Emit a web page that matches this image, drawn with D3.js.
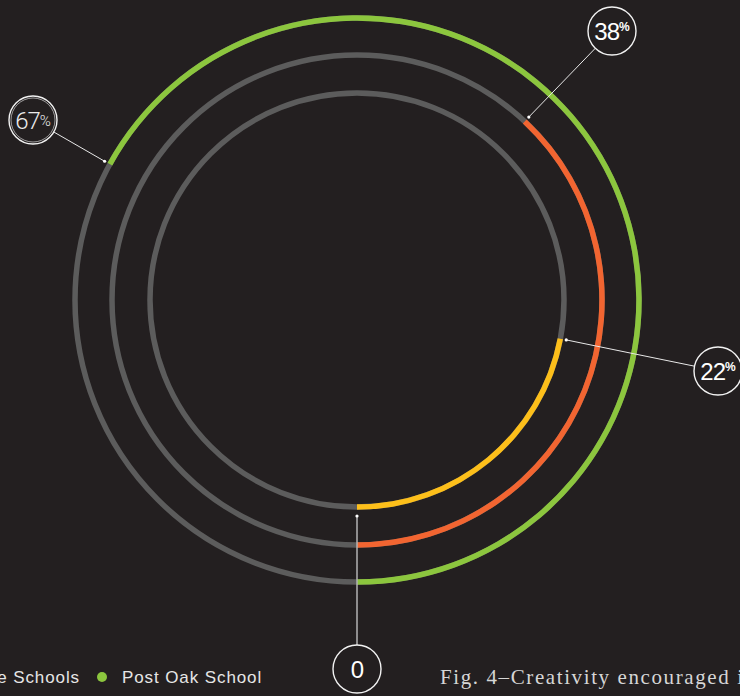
<!DOCTYPE html>
<html><head><meta charset="utf-8">
<script src="https://cdn.jsdelivr.net/npm/d3@7"></script>
<style>
html,body{margin:0;padding:0;background:#231f20;overflow:hidden;}
svg{display:block;}
</style></head>
<body>
<script>
// ---- data ----
const series = ["Public Schools", "Private Schools", "Post Oak School"];
const values = [22, 38, 67];           // percent
const colors = ["#fdbf1a", "#f26531", "#8cc63e"];
const legendItems = ["Private Schools", "Post Oak School"];
const legendColors = ["#f26531", "#8cc63e"];
const caption = "Fig. 4\u2013Creativity encouraged in school";

// ---- layout ----
const W = 740, H = 696;
const cx = 357, cy = 300;
const radii = [207, 245, 282];
const labelPos = [[718, 371], [612, 31], [33, 120]];
const zeroLabel = [357, 669];
const labelR = 24;

const svg = d3.select("body").append("svg").attr("width", W).attr("height", H);
svg.append("rect").attr("width", W).attr("height", H).attr("fill", "#231f20");

const angle = d3.scaleLinear().domain([0, 100]).range([Math.PI, -Math.PI]);
const g = svg.append("g").attr("transform", `translate(${cx},${cy})`);

const sw = 5.5;
radii.forEach((r, i) => {
  g.append("circle").attr("r", r).attr("fill", "none")
    .attr("stroke", "#5c5c5c").attr("stroke-width", sw);
  const arc = d3.arc().innerRadius(r - sw / 2).outerRadius(r + sw / 2)
    .startAngle(angle(0)).endAngle(angle(values[i]));
  g.append("path").attr("d", arc()).attr("fill", colors[i]);
});

// zero leader
g.append("line").attr("x1", 0).attr("y1", radii[0] + 9)
  .attr("x2", 0).attr("y2", zeroLabel[1] - cy - labelR)
  .attr("stroke", "#b3b3b3").attr("stroke-width", 1.5);
g.append("circle").attr("cx", 0).attr("cy", radii[0] + 9).attr("r", 1.6).attr("fill", "#fff");

// value leaders
values.forEach((v, i) => {
  const a = angle(v);
  const R = radii[i] + 6;
  const dx = R * Math.sin(a), dy = -R * Math.cos(a);
  const lx = labelPos[i][0] - cx, ly = labelPos[i][1] - cy;
  const ang = Math.atan2(dy - ly, dx - lx);
  const ex = lx + labelR * Math.cos(ang), ey = ly + labelR * Math.sin(ang);
  g.append("line").attr("x1", dx).attr("y1", dy).attr("x2", ex).attr("y2", ey)
    .attr("stroke", "#e8e8e8").attr("stroke-width", 1);
  g.append("circle").attr("cx", dx).attr("cy", dy).attr("r", 1.6).attr("fill", "#fff");
});

// labels
function label(x, y, num, pct, thin) {
  const lg = svg.append("g").attr("transform", `translate(${x},${y})`);
  lg.append("circle").attr("r", labelR).attr("fill", "#231f20")
    .attr("stroke", "#f2f2f2").attr("stroke-width", 1.4);
  if (thin) lg.append("circle").attr("r", labelR - 2).attr("fill", "none")
    .attr("stroke", "#f2f2f2").attr("stroke-width", 0.6);
  const t = lg.append("text").attr("text-anchor", "middle").attr("y", 8.5)
    .attr("fill", thin ? "#ececec" : "#ffffff")
    .style("font-family", thin ? "Roboto, 'Liberation Sans', sans-serif" : "'Liberation Sans', Helvetica, Arial, sans-serif")
    .style("font-weight", thin ? 300 : 400);
  t.append("tspan").attr("font-size", 24).attr("letter-spacing", -1).text(num);
  if (pct) t.append("tspan").attr("font-size", thin ? 15 : 12).attr("dy", thin ? -3 : -9)
    .attr("font-weight", thin ? 300 : 700).text("%");
}
values.forEach((v, i) => label(labelPos[i][0], labelPos[i][1], v, true, i === 2));
label(zeroLabel[0], zeroLabel[1], 0, false, false);

// legend
const leg = svg.append("g").style("font-family", "'Liberation Sans', Helvetica, Arial, sans-serif")
  .style("font-size", "17px").attr("fill", "#e6e6e6").attr("letter-spacing", 0.9);
leg.append("circle").attr("cx", -140).attr("cy", 677).attr("r", 5).attr("fill", legendColors[0]);
leg.append("text").attr("x", 80).attr("y", 683).attr("text-anchor", "end").text(legendItems[0]);
leg.append("circle").attr("cx", 102).attr("cy", 677).attr("r", 5).attr("fill", legendColors[1]);
leg.append("text").attr("x", 122).attr("y", 683).text(legendItems[1]);

svg.append("text").attr("x", 440).attr("y", 684)
  .style("font-family", "'Liberation Serif', 'DejaVu Serif', serif")
  .style("font-size", "21px").attr("fill", "#d6d6d6")
  .attr("letter-spacing", 1.6).text(caption);
</script>
</body></html>
